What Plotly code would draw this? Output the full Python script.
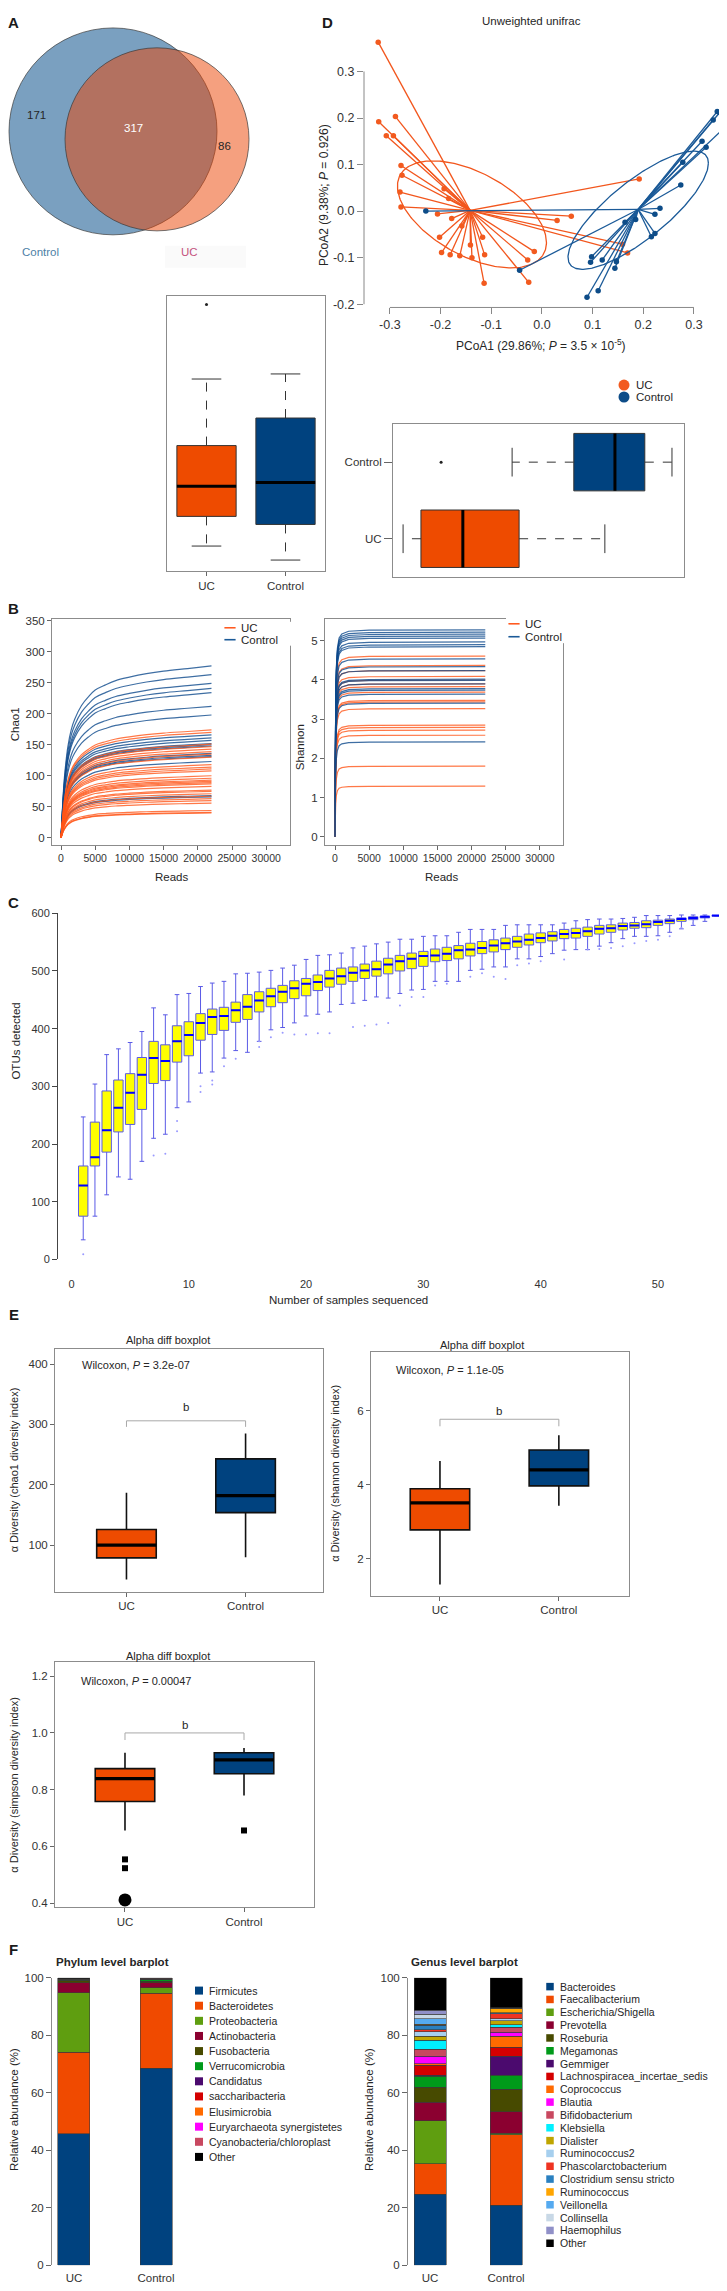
import numpy as np
import plotly.graph_objects as go

W, H = 727, 2291
FONT = "Liberation Sans, Arial, sans-serif"
TXT = "#262626"
UC_COL = "#ee4b00"
CT_COL = "#00427f"

# ======================= DATA =======================
# A: Venn diagram (OTU counts)
venn_names = ["Control", "UC"]
venn_only = [171, 86]
venn_shared = 317

# D: PCoA (unweighted UniFrac) sample scores
uc_pc1 = [-0.323, -0.322, -0.289, -0.307, -0.293, -0.278, -0.276, -0.280, -0.278, -0.193,
          -0.184, -0.206, -0.178, -0.158, -0.202, -0.198, -0.181, -0.162, -0.141, -0.138,
          -0.117, -0.113, -0.114, -0.028, -0.015, -0.026, 0.030, 0.058, 0.159, 0.169, 0.192]
uc_pc2 = [0.363, 0.192, 0.203, 0.162, 0.162, 0.098, 0.077, 0.041, 0.009, 0.048,
          0.027, -0.006, -0.016, -0.032, -0.056, -0.089, -0.094, -0.096, -0.073, -0.100,
          -0.056, -0.094, -0.155, -0.105, -0.087, -0.153, -0.020, -0.011, -0.071, -0.090, 0.069]
ctrl_pc1 = [-0.229, -0.044, 0.346, 0.351, 0.338, 0.366, 0.316, 0.324, 0.278, 0.274, 0.233, 0.223,
            0.223, 0.216, 0.164, 0.185, 0.098, 0.096, 0.119, 0.147, 0.144, 0.111, 0.089]
ctrl_pc2 = [0.000, -0.127, 0.214, 0.212, 0.196, 0.185, 0.150, 0.137, 0.105, 0.056, 0.006, -0.007,
            -0.048, -0.055, -0.024, -0.018, -0.098, -0.110, -0.105, -0.109, -0.123, -0.171, -0.185]
# ellipse: centre x, centre y, sd x, sd y, correlation
uc_ellipse = [-0.138, -0.007, 0.147, 0.115, -0.526]
ctrl_ellipse = [0.190, 0.002, 0.1385, 0.127, 0.796]
pc_ticks_x = [-0.3, -0.2, -0.1, 0.0, 0.1, 0.2, 0.3]
pc_ticks_y = [-0.2, -0.1, 0.0, 0.1, 0.2, 0.3]

# marginal boxplots: [lower whisker, Q1, median, Q3, upper whisker]
pc2_box_uc = [-0.191, -0.121, -0.050, 0.046, 0.203]
pc2_out_uc = [0.379]
pc2_box_ctrl = [-0.224, -0.140, -0.041, 0.111, 0.215]
pc1_box_uc = [-0.324, -0.278, -0.170, -0.025, 0.196]
pc1_box_ctrl = [-0.043, 0.116, 0.222, 0.299, 0.369]
pc1_out_ctrl = [-0.226]

# B: rarefaction curves
chao_depth = [0, 100, 250, 500, 1000, 1500, 2000, 3000, 4000, 5000, 6500, 8000, 10000, 12500, 15000, 18500, 22000]
chao_frac = [0, 0.08, 0.20, 0.35, 0.53, 0.63, 0.69, 0.77, 0.82, 0.86, 0.89, 0.915, 0.935, 0.955, 0.97, 0.985, 1.0]
chao_final_ctrl = [277, 263, 249, 241, 234, 212, 198, 166, 161, 157, 152, 150, 148, 136, 133, 131, 123, 68, 66]
chao_final_uc = [174, 170, 151, 147, 143, 139, 135, 130, 118, 114, 111, 108, 100, 96, 93, 91, 89, 87,
                 83, 77, 75, 71, 67, 63, 60, 56, 44, 41, 40]
shan_depth = [0, 50, 100, 200, 350, 600, 1000, 2000, 5000, 22000]
shan_frac = [0, 0.45, 0.66, 0.82, 0.91, 0.96, 0.98, 0.993, 0.998, 1.0]
shan_final_ctrl = [5.28, 5.22, 5.17, 5.12, 5.07, 4.97, 4.90, 4.85, 4.54, 4.34, 4.24, 4.02, 3.99, 3.90,
                   3.78, 3.74, 3.64, 3.41, 2.42]
shan_final_uc = [4.61, 4.37, 4.24, 4.09, 4.00, 3.90, 3.83, 3.69, 3.48, 3.44, 3.27, 2.85, 2.79, 2.72,
                 2.59, 1.80, 1.29]
chao_ticks_x = [0, 5000, 10000, 15000, 20000, 25000, 30000]
chao_ticks_y = [0, 50, 100, 150, 200, 250, 300, 350]
shan_ticks_y = [0, 1, 2, 3, 4, 5]

# C: OTU accumulation boxplots
n_samples = list(range(1, 56))
c_q1 = [75, 162, 186, 221, 234, 260, 305, 310, 342, 353, 380, 390, 397, 411, 416, 429, 438, 445, 452, 457,
        466, 472, 477, 482, 487, 491, 495, 500, 504, 508, 516, 518, 521, 526, 530, 533, 537, 541, 545, 549,
        552, 556, 557, 560, 564, 567, 571, 574, 575, 579, 582, 586, 589, 592, 595]
c_med = [128, 177, 224, 263, 289, 320, 349, 344, 378, 389, 410, 420, 422, 432, 438, 449, 456, 464, 470, 478,
         481, 487, 491, 497, 501, 503, 511, 517, 521, 526, 527, 530, 536, 537, 540, 544, 548, 551, 554, 557,
         561, 564, 566, 569, 573, 574, 578, 579, 581, 585, 587, 590, 592, 594, 596]
c_q3 = [162, 238, 292, 311, 322, 350, 378, 372, 405, 412, 426, 434, 437, 446, 459, 464, 470, 475, 483, 487,
        493, 501, 505, 507, 512, 517, 522, 527, 531, 534, 538, 541, 544, 548, 551, 554, 557, 560, 564, 566,
        568, 572, 574, 576, 579, 580, 583, 584, 587, 588, 590, 592, 594, 595, 596]
c_lo = [34, 75, 112, 143, 139, 170, 210, 217, 263, 273, 323, 325, 349, 362, 359, 378, 398, 402, 410, 422,
        425, 429, 442, 444, 449, 455, 453, 461, 467, 468, 482, 482, 482, 501, 503, 507, 507, 521, 521, 525,
        530, 536, 537, 537, 543, 549, 556, 560, 560, 561, 567, 573, 579, 586, 595]
c_hi = [247, 304, 355, 365, 376, 395, 436, 424, 459, 461, 473, 479, 482, 495, 496, 498, 501, 505, 510, 520,
        527, 528, 531, 540, 543, 547, 550, 555, 555, 560, 561, 561, 567, 572, 572, 572, 579, 580, 580, 580,
        580, 583, 587, 589, 590, 590, 591, 593, 596, 596, 596, 597, 597, 597, 596]
c_out_x = [1, 7, 8, 9, 9, 11, 11, 12, 12, 13, 14, 16, 16, 17, 18, 19, 20, 21, 22, 24, 25, 26, 27, 28, 29, 30,
           31, 32, 34, 35, 36, 37, 38, 39, 40, 42, 44, 45, 46, 47, 48, 49, 50, 51, 52, 53]
c_out_y = [9, 180, 183, 240, 222, 300, 290, 310, 303, 335, 348, 378, 368, 385, 393, 390, 390, 392, 392, 403,
           405, 407, 410, 440, 455, 455, 475, 478, 490, 496, 490, 486, 510, 513, 517, 520, 537, 538, 540, 543,
           548, 552, 554, 560, 575, 583]
c_ticks_x = [0, 10, 20, 30, 40, 50]
c_ticks_y = [0, 100, 200, 300, 400, 500, 600]

# E: alpha diversity boxplots [lower, Q1, median, Q3, upper]
groups = ["UC", "Control"]
chao_box = {"UC": [43, 79, 100, 126, 187], "Control": [80, 154, 182, 243, 285]}
shan_box = {"UC": [1.30, 2.78, 3.51, 3.89, 4.64], "Control": [3.43, 3.97, 4.40, 4.94, 5.34]}
simp_box = {"UC": [0.656, 0.758, 0.839, 0.874, 0.930], "Control": [0.779, 0.856, 0.905, 0.930, 0.947]}
simp_out = {"UC": [0.554, 0.523], "Control": [0.656]}
simp_extreme_uc = [0.411]
wilcox_p = ["3.2e-07", "1.1e-05", "0.00047"]
sig_bracket = [306, 5.77, 1.0]
sig_leg = [296, 5.58, 0.975]
sig_label = [329, 6.0, 1.028]

# F: relative abundance (%)
phylum_names = ["Firmicutes", "Bacteroidetes", "Proteobacteria", "Actinobacteria", "Fusobacteria",
                "Verrucomicrobia", "Candidatus", "saccharibacteria", "Elusimicrobia",
                "Euryarchaeota synergistetes", "Cyanobacteria/chloroplast", "Other"]
phylum_uc = [45.7, 28.3, 20.8, 3.5, 0.7, 0.1, 0.1, 0.1, 0.1, 0.1, 0.1, 0.4]
phylum_ctrl = [68.5, 26.0, 2.0, 1.8, 0.4, 0.6, 0.1, 0.1, 0.1, 0.1, 0.1, 0.2]
phylum_colors = ["#00427f", "#f04a00", "#5f9e10", "#8b0030", "#474a00", "#009a1a", "#4b0a6e", "#d40000",
                 "#ff6a00", "#ff00ff", "#c84860", "#000000"]
genus_names = ["Bacteroides", "Faecalibacterium", "Escherichia/Shigella", "Prevotella", "Roseburia",
               "Megamonas", "Gemmiger", "Lachnospiracea_incertae_sedis", "Coprococcus", "Blautia",
               "Bifidobacterium", "Klebsiella", "Dialister", "Ruminococcus2", "Phascolarctobacterium",
               "Clostridium sensu stricto", "Ruminococcus", "Veillonella", "Collinsella", "Haemophilus", "Other"]
genus_uc = [24.6, 10.7, 14.9, 6.5, 5.2, 3.8, 0.3, 3.6, 0.4, 2.6, 2.5, 3.1, 1.4, 1.6, 0.6, 1.7, 0.3, 1.9,
            1.6, 1.4, 11.3]
genus_ctrl = [20.8, 24.5, 0.5, 7.5, 7.9, 4.9, 6.6, 3.1, 3.8, 1.4, 1.7, 0.9, 1.5, 0.6, 1.8, 0.3, 1.5, 0.1,
              0.1, 0.1, 10.4]
genus_colors = ["#00427f", "#f04a00", "#5f9e10", "#8b0030", "#474a00", "#009a1a", "#4b0a6e", "#d40000",
                "#ff6a00", "#ff00ff", "#c84860", "#00f0ff", "#bfa500", "#a6cfee", "#ee3322", "#2a80c0",
                "#ffa500", "#55aaf0", "#c8d8e6", "#9090c8", "#000000"]
bar_ticks_y = [0, 20, 40, 60, 80, 100]

# ======================= FIGURE HELPERS =======================
traces, shapes, annotations = [], [], []
layout = dict(width=W, height=H, margin=dict(l=0, r=0, t=0, b=0, pad=0),
              paper_bgcolor="white", plot_bgcolor="white", showlegend=False, barmode="stack",
              font=dict(family=FONT, size=11, color=TXT), shapes=shapes, annotations=annotations)
_n = [0]


def new_axes(xpx, ypx, xr, yr, xo=None, yo=None):
    _n[0] += 1
    s = "" if _n[0] == 1 else str(_n[0])
    base = dict(showgrid=False, zeroline=False, showline=False, ticks="", showticklabels=False, fixedrange=True)
    xa = dict(base, domain=[xpx[0] / W, xpx[1] / W], range=list(xr), anchor="y" + s)
    ya = dict(base, domain=[1 - ypx[1] / H, 1 - ypx[0] / H], range=list(yr), anchor="x" + s)
    if xo:
        xa.update(xo)
    if yo:
        ya.update(yo)
    layout["xaxis" + s] = xa
    layout["yaxis" + s] = ya
    return "x" + s, "y" + s


FRAME = dict(showline=True, mirror=True, linecolor="#8c8c8c", linewidth=1)


def tk(vals, text=None, size=11, ticklen=4, color="#555555"):
    vals = list(vals)
    if text is None:
        text = [str(v) for v in vals]
    return dict(ticks="outside", ticklen=ticklen, tickwidth=1, tickcolor=color, showticklabels=True,
                tickvals=vals, ticktext=list(text), tickfont=dict(family=FONT, size=size, color="#333333"))


def txt(x, y, s, size=11, color=TXT, angle=0, xanchor="center", yanchor="middle", xref="paper", yref="paper"):
    if xref == "paper":
        x = x / W
    if yref == "paper":
        y = 1 - y / H
    annotations.append(dict(x=x, y=y, xref=xref, yref=yref, text=s, showarrow=False, textangle=angle,
                            xanchor=xanchor, yanchor=yanchor, font=dict(family=FONT, size=size, color=color)))


def fmt1(v):
    return f"{v:.1f}"


def rbox(xr, yr, pos, st, color, half=0.375, horizontal=False, outliers=()):
    lo, q1, med, q3, hi = st

    def add(cat, val, **kw):
        xs, ys = (val, cat) if horizontal else (cat, val)
        traces.append(go.Scatter(x=xs, y=ys, xaxis=xr, yaxis=yr, hoverinfo="skip", **kw))

    add([pos - half, pos + half, pos + half, pos - half, pos - half], [q1, q1, q3, q3, q1],
        mode="lines", fill="toself", fillcolor=color, line=dict(color="#333333", width=1))
    add([pos, pos, None, pos, pos], [q3, hi, None, q1, lo], mode="lines",
        line=dict(color="#333333", width=1, dash="dash"))
    add([pos - half / 2, pos + half / 2, None, pos - half / 2, pos + half / 2], [hi, hi, None, lo, lo],
        mode="lines", line=dict(color="#333333", width=1))
    add([pos - half, pos + half], [med, med], mode="lines", line=dict(color="black", width=3))
    if outliers:
        add([pos] * len(outliers), list(outliers), mode="markers", marker=dict(size=3, color="#222222"))


def legend(x_px, y0_px, step, names, colors, kind, msize, fsize, gap):
    n = len(names)
    right = min(x_px + 260, W - 1)
    xr, yr = new_axes((x_px - 8, right), (y0_px - step / 2, y0_px + step * (n - 0.5)),
                      (-8, right - x_px), (n - 0.5, -0.5))
    if kind == "line":
        marker = dict(symbol="line-ew", size=msize, line=dict(color=colors, width=1.6))
    else:
        marker = dict(symbol=kind, size=msize, color=colors, line=dict(width=0))
    traces.append(go.Scatter(x=[0] * n, y=list(range(n)), mode="markers", marker=marker, xaxis=xr, yaxis=yr,
                             hoverinfo="skip", cliponaxis=False))
    for i, nm in enumerate(names):
        txt(gap, i, nm, size=fsize, xanchor="left", xref=xr, yref=yr)


# ======================= A: VENN =======================
vx, vy = new_axes((0, 260), (0, 260), (0, 260), (260, 0))
venn_geom = {"Control": (105, 118, 104, "rgb(122,160,192)"), "UC": (149, 126, 92, "rgba(235,65,0,0.5)")}
for nm in venn_names:
    cx, cy, r, fc = venn_geom[nm]
    shapes.append(dict(type="circle", xref=vx, yref=vy, x0=cx - r, x1=cx + r, y0=cy - r, y1=cy + r,
                       fillcolor=fc, line=dict(color="#3a3a3a", width=0.7)))
shapes.append(dict(type="rect", xref="paper", yref="paper", x0=157 / W, x1=238 / W, y0=1 - 255 / H,
                   y1=1 - 233 / H, fillcolor="#fafafa", line=dict(width=0), layer="below"))
txt(28, 102, str(venn_only[0]), size=11.5, xref=vx, yref=vy)
txt(125, 115, str(venn_shared), size=11.5, color="white", xref=vx, yref=vy)
txt(216, 133, str(venn_only[1]), size=11.5, xref=vx, yref=vy)
txt(32, 239, venn_names[0], size=11.5, color="#4d7fa6", xref=vx, yref=vy)
txt(181, 239, venn_names[1], size=11.5, color="#c4527e", xref=vx, yref=vy)

# ======================= D: PCoA =======================
px_, py_ = new_axes((356, 727), (18, 295), (-0.351, 0.381), (-0.207, 0.385),
                    xo=tk(pc_ticks_x, [fmt1(v) for v in pc_ticks_x], size=12.5, ticklen=6, color="#888888"),
                    yo=tk(pc_ticks_y, [fmt1(v) for v in pc_ticks_y], size=12.5, ticklen=6, color="#888888"))
shapes.append(dict(type="line", xref=px_, yref=py_ + " domain", x0=min(pc_ticks_x), x1=max(pc_ticks_x),
                   y0=0, y1=0, line=dict(color="#888888", width=1)))
shapes.append(dict(type="line", xref=px_ + " domain", yref=py_, x0=0, x1=0, y0=min(pc_ticks_y),
                   y1=max(pc_ticks_y), line=dict(color="#888888", width=1)))

t = np.linspace(0, 2 * np.pi, 240)
for xs, ys, ell, col, lcol in [(uc_pc1, uc_pc2, uc_ellipse, "#f25a1f", "#f2561d"),
                                (ctrl_pc1, ctrl_pc2, ctrl_ellipse, "#0d4c88", "#1b5a98")]:
    cx, cy = float(np.mean(xs)), float(np.mean(ys))
    lx, ly = [], []
    for a, b in zip(xs, ys):
        lx += [cx, a, None]
        ly += [cy, b, None]
    traces.append(go.Scatter(x=lx, y=ly, mode="lines", line=dict(color=lcol, width=1.3), xaxis=px_, yaxis=py_,
                             hoverinfo="skip"))
    ex, ey, sx, sy, r = ell
    traces.append(go.Scatter(x=ex + sx * np.cos(t), y=ey + sy * (r * np.cos(t) + np.sqrt(1 - r * r) * np.sin(t)),
                             mode="lines", line=dict(color=lcol, width=1.3), xaxis=px_, yaxis=py_, hoverinfo="skip"))
    traces.append(go.Scatter(x=xs, y=ys, mode="markers", marker=dict(size=5.5, color=col), xaxis=px_, yaxis=py_,
                             hoverinfo="skip"))
txt(523, 7, "Unweighted unifrac", size=11.5)
txt(316, 182, "PCoA2 (9.38%; <i>P</i> = 0.926)", size=12, angle=-90)
txt(533, 333, "PCoA1 (29.86%; <i>P</i> = 3.5 × 10<sup>-5</sup>)", size=12)

# marginal box (PCoA2)
bx, by = new_axes((159, 317), (283, 560), (0.5, 2.5), (-0.25, 0.40),
                  xo=dict(FRAME, **tk([1, 2], ["UC", "Control"], size=11.5, ticklen=4, color="#666666")),
                  yo=FRAME)
rbox(bx, by, 1, pc2_box_uc, UC_COL, outliers=pc2_out_uc)
rbox(bx, by, 2, pc2_box_ctrl, CT_COL)

# marginal box (PCoA1)
hx, hy = new_axes((385, 676), (412, 566), (-0.35, 0.40), (0.5, 2.5), xo=FRAME,
                  yo=dict(FRAME, **tk([1, 2], ["UC", "Control"], size=11.5, ticklen=8, color="#666666")))
rbox(hx, hy, 1, pc1_box_uc, UC_COL, horizontal=True)
rbox(hx, hy, 2, pc1_box_ctrl, CT_COL, horizontal=True, outliers=pc1_out_ctrl)

legend(616, 373, 12, ["UC", "Control"], ["#f25a1f", "#0d4c88"], "circle", 11, 11.5, 10)

# ======================= B: rarefaction =======================
cx_, cy_ = new_axes((44, 282), (608, 835), (-1316, 33480), (-11, 353),
                    xo=dict(FRAME, **tk(chao_ticks_x, size=10.5, ticklen=4, color="#666666")),
                    yo=dict(FRAME, **tk(chao_ticks_y, size=11.5, ticklen=4, color="#666666")))
for v in chao_final_ctrl:
    traces.append(go.Scatter(x=chao_depth, y=[v * f for f in chao_frac], mode="lines", line_shape="spline",
                             line=dict(color="rgba(14,74,140,0.8)", width=1.2), xaxis=cx_, yaxis=cy_, hoverinfo="skip"))
for v in chao_final_uc:
    traces.append(go.Scatter(x=chao_depth, y=[v * f for f in chao_frac], mode="lines", line_shape="spline",
                             line=dict(color="rgba(255,86,25,0.8)", width=1.2), xaxis=cx_, yaxis=cy_, hoverinfo="skip"))
txt(7, 714, "Chao1", size=11.5, angle=-90)
txt(163, 868, "Reads", size=11.5)
legend(222, 617, 12, ["UC", "Control"], ["#ff5a20", "#1b5a98"], "line", 8, 11.5, 9)

sx_, sy_ = new_axes((317, 555), (608, 835), (-1464, 33380), (-0.2, 5.56),
                    xo=dict(FRAME, **tk(chao_ticks_x, size=10.5, ticklen=4, color="#666666")),
                    yo=dict(FRAME, **tk(shan_ticks_y, size=11.5, ticklen=4, color="#666666")))
for i, a in enumerate(shan_final_ctrl):
    traces.append(go.Scatter(x=shan_depth, y=[a * f for f in shan_frac], mode="lines",
                             line=dict(color="rgba(14,74,140,0.8)", width=1.2), xaxis=sx_, yaxis=sy_, hoverinfo="skip"))
    if i < len(shan_final_uc):
        b = shan_final_uc[i]
        traces.append(go.Scatter(x=shan_depth, y=[b * f for f in shan_frac], mode="lines",
                                 line=dict(color="rgba(255,86,25,0.8)", width=1.2), xaxis=sx_, yaxis=sy_,
                                 hoverinfo="skip"))
txt(292, 737, "Shannon", size=11.5, angle=-90)
txt(433, 868, "Reads", size=11.5)
legend(506, 613, 13, ["UC", "Control"], ["#ff5a20", "#1b5a98"], "line", 8, 11.5, 9)

# ======================= C: OTU accumulation =======================
ox, oy = new_axes((50, 720), (904, 1252), (-1.15, 55.97), (0, 600),
                  xo=tk(c_ticks_x, size=11, ticklen=14, color="rgba(0,0,0,0)"),
                  yo=dict(showline=True, linecolor="#444444", linewidth=1,
                          **tk(c_ticks_y, size=11, ticklen=5, color="#444444")))
traces.append(go.Box(x=n_samples, q1=c_q1, median=c_med, q3=c_q3, lowerfence=c_lo, upperfence=c_hi,
                     width=0.8, whiskerwidth=0.5, fillcolor="#ffff00", line=dict(color="#5a5ae6", width=1),
                     boxpoints=False, xaxis=ox, yaxis=oy, hoverinfo="skip"))
mx, my = [], []
for n, m in zip(n_samples, c_med):
    mx += [n - 0.4, n + 0.4, None]
    my += [m, m, None]
traces.append(go.Scatter(x=mx, y=my, mode="lines", line=dict(color="#0000ff", width=2), xaxis=ox, yaxis=oy,
                         hoverinfo="skip"))
traces.append(go.Scatter(x=c_out_x, y=c_out_y, mode="markers", marker=dict(size=2, color="#9a9aff"),
                         xaxis=ox, yaxis=oy, hoverinfo="skip"))
txt(8, 1033, "OTUs detected", size=11.5, angle=-90)
txt(340, 1293, "Number of samples sequenced", size=11.5)

# ======================= E: alpha diversity =======================
e_specs = [
    ((47, 315), (1342, 1586), (-0.6, 1.65), (23, 425), [100, 200, 300, 400], chao_box, None,
     "α Diversity (chao1 diversity index)", 6, (160, 1333), (72, 1358)),
    ((363, 621), (1345, 1590), (-0.58, 1.59), (1.0, 7.59), [2, 4, 6], shan_box, None,
     "α Diversity (shannon diversity index)", 327, (474, 1338), (386, 1363)),
    ((47, 306), (1657, 1903), (-0.588, 1.588), (0.386, 1.249), [0.4, 0.6, 0.8, 1.0, 1.2], simp_box, simp_out,
     "α Diversity (simpson diversity index)", 6, (160, 1651), (71, 1676)),
]
for k, (xd, yd, xrng, yrng, yt, boxes, outs, ytitle, ytx, ttl, wpos) in enumerate(e_specs):
    ytext = [fmt1(v) for v in yt] if k == 2 else [str(v) for v in yt]
    ex_, ey_ = new_axes(xd, yd, xrng, yrng,
                        xo=dict(FRAME, **tk([0, 1], groups, size=11.5, ticklen=4, color="#666666")),
                        yo=dict(FRAME, **tk(yt, ytext, size=11.5, ticklen=4, color="#666666")))
    for i, g in enumerate(groups):
        lo, q1, med, q3, hi = boxes[g]
        traces.append(go.Box(x=[i], q1=[q1], median=[med], q3=[q3], lowerfence=[lo], upperfence=[hi],
                             width=0.5, whiskerwidth=0, fillcolor=UC_COL if g == "UC" else CT_COL,
                             line=dict(color="#111111", width=1.6), boxpoints=False, xaxis=ex_, yaxis=ey_,
                             hoverinfo="skip"))
        traces.append(go.Scatter(x=[i - 0.25, i + 0.25], y=[med, med], mode="lines",
                                 line=dict(color="black", width=3.2), xaxis=ex_, yaxis=ey_, hoverinfo="skip"))
        if outs and outs.get(g):
            traces.append(go.Scatter(x=[i] * len(outs[g]), y=outs[g], mode="markers",
                                     marker=dict(symbol="square", size=6, color="black"), xaxis=ex_, yaxis=ey_,
                                     hoverinfo="skip"))
    if k == 2:
        traces.append(go.Scatter(x=[0] * len(simp_extreme_uc), y=simp_extreme_uc, mode="markers",
                                 marker=dict(size=13, color="black"), xaxis=ex_, yaxis=ey_, hoverinfo="skip",
                                 cliponaxis=False))
    traces.append(go.Scatter(x=[0, 0, 1, 1], y=[sig_leg[k], sig_bracket[k], sig_bracket[k], sig_leg[k]],
                             mode="lines", line=dict(color="#a8a8a8", width=1), xaxis=ex_, yaxis=ey_,
                             hoverinfo="skip"))
    txt(0.5, sig_label[k], "b", size=11.5, xref=ex_, yref=ey_)
    txt(ytx, (yd[0] + yd[1]) / 2, ytitle, size=11, angle=-90)
    txt(ttl[0], ttl[1], "Alpha diff boxplot", size=11)
    txt(wpos[0], wpos[1], f"Wilcoxon, <i>P</i> = {wilcox_p[k]}", size=11, xanchor="left")

# ======================= F: barplots =======================
for names, uc, ct, cols, xd, xrng, bw, title, title_x, ytitle_x, leg in [
        (phylum_names, phylum_uc, phylum_ctrl, phylum_colors, (44, 180), (0.732, 2.39), 0.39,
         "Phylum level barplot", 46, 6, (191, 1987, 15.2, 8, 10.5)),
        (genus_names, genus_uc, genus_ctrl, genus_colors, (400, 530), (0.71, 2.42), 0.42,
         "Genus level barplot", 401, 361, (542, 1983, 12.9, 7.5, 10.5))]:
    fx, fy = new_axes(xd, (1974, 2263), xrng, (0, 100),
                      xo=tk([1, 2], ["UC", "Control"], size=11.5, ticklen=2, color="rgba(0,0,0,0)"),
                      yo=dict(showline=True, linecolor="#8c8c8c", linewidth=1,
                              **tk(bar_ticks_y, size=11.5, ticklen=5, color="#666666")))
    for nm, a, b, c in zip(names, uc, ct, cols):
        traces.append(go.Bar(x=[1, 2], y=[a, b], width=bw,
                             marker=dict(color=c, line=dict(color="#3a3a3a", width=0.6)),
                             xaxis=fx, yaxis=fy, hoverinfo="skip"))
    txt(title_x, 1958, "<b>" + title + "</b>", size=11.5, xanchor="left")
    txt(ytitle_x, 2107, "Relative abundance (%)", size=11.5, angle=-90)
    legend(leg[0], leg[1], leg[2], names, cols, "square", leg[3], leg[4], 8)

# ======================= panel letters =======================
for letter, (lx, ly) in zip("ADBCEF", [(6, 9), (319, 9), (6, 598), (6, 893), (6, 1307), (6, 1946)]):
    txt(lx, ly, f"<b>{letter}</b>", size=15, color="#1a1a1a")

fig = go.Figure(data=traces, layout=layout)
fig.write_html("out.html")
